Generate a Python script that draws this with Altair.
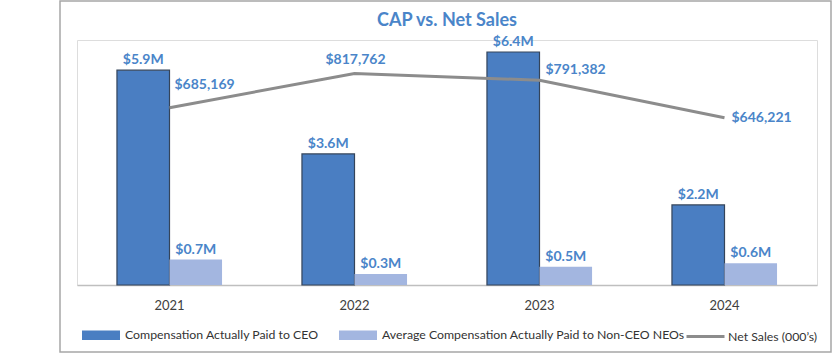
import altair as alt
import pandas as pd

years = ["2021", "2022", "2023", "2024"]
ceo_cap = [5.9, 3.6, 6.4, 2.2]          # $M
neo_cap = [0.7, 0.3, 0.5, 0.6]          # $M
net_sales = [685169, 817762, 791382, 646221]  # $000s

CEO = "Compensation Actually Paid to CEO"
NEO = "Average Compensation Actually Paid to Non-CEO NEOs"
NS = "Net Sales (000\u2019s)"

bars_df = pd.DataFrame(
    [{"year": y, "series": CEO, "value": v} for y, v in zip(years, ceo_cap)]
    + [{"year": y, "series": NEO, "value": v} for y, v in zip(years, neo_cap)]
)
line_df = pd.DataFrame({"year": years, "net_sales": net_sales, "metric": [NS] * len(years)})

FONT = "Lato"
LABEL_COLOR = "#4A85C9"
CEO_COLOR = "#4A7EC2"
NEO_COLOR = "#A3B6E0"
LINE_COLOR = "#8C8C8C"

W, H = 740, 245

x_enc = alt.X(
    "year:N",
    sort=years,
    scale=alt.Scale(paddingInner=0.432, paddingOuter=0.216),
    axis=alt.Axis(
        title=None, labelAngle=0, ticks=False, labelPadding=14,
        labelFont=FONT, labelFontSize=13, labelColor="#404040",
        domainColor="#BFBFBF", domainWidth=1.5,
    ),
)
x_center = alt.X("year:N", sort=years, bandPosition=0.5)

bar_y = alt.Y("value:Q", scale=alt.Scale(domain=[0, 6.73], nice=False, zero=True), axis=None)

bars = alt.Chart(bars_df).mark_bar(stroke="#34445A").encode(
    x=x_enc,
    xOffset=alt.XOffset("series:N", sort=[CEO, NEO], scale=alt.Scale(paddingInner=0, paddingOuter=0)),
    y=bar_y,
    color=alt.Color(
        "series:N",
        sort=[CEO, NEO],
        scale=alt.Scale(domain=[CEO, NEO], range=[CEO_COLOR, NEO_COLOR]),
        legend=alt.Legend(
            title=None, orient="none", legendX=5, legendY=276, direction="horizontal",
            columns=2, columnPadding=20, labelOffset=5, padding=0,
            symbolType="M-1,-0.25H1V0.25H-1Z", symbolSize=1444, symbolStrokeWidth=0,
            labelFont=FONT, labelFontSize=12.3, labelColor="#333333", labelLimit=400,
        ),
    ),
    strokeWidth=alt.condition(alt.datum.series == CEO, alt.value(1.2), alt.value(0)),
)

bar_text = alt.Chart(bars_df).transform_calculate(
    label="'$' + format(datum.value, '.1f') + 'M'"
).mark_text(
    font=FONT, fontSize=14, fontWeight="bold", color=LABEL_COLOR,
    baseline="alphabetic", dy=-6,
).encode(
    x=x_enc,
    xOffset=alt.XOffset("series:N", sort=[CEO, NEO], scale=alt.Scale(paddingInner=0, paddingOuter=0)),
    y=bar_y,
    text="label:N",
)

line_y = alt.Y("net_sales:Q", scale=alt.Scale(domain=[0, 947000], nice=False, zero=True), axis=None)

line = alt.Chart(line_df).mark_line(strokeWidth=3, strokeCap="butt").encode(
    x=x_center,
    y=line_y,
    stroke=alt.Stroke(
        "metric:N",
        scale=alt.Scale(domain=[NS], range=[LINE_COLOR]),
        legend=alt.Legend(
            title=None, orient="none", legendX=608, legendY=276, padding=0,
            symbolType="stroke", symbolSize=1444, symbolStrokeWidth=3, labelOffset=2,
            labelFont=FONT, labelFontSize=12.3, labelColor="#333333",
        ),
    ),
)

# label placement per point: (align, dx, dy)
placements = {
    "2021": ("left", 5, -23),
    "2022": ("center", 1, -13),
    "2023": ("left", 6, -10),
    "2024": ("left", 7, 0),
}
line_labels = []
for yr, (al, dx, dy) in placements.items():
    line_labels.append(
        alt.Chart(line_df).transform_filter(alt.datum.year == yr).transform_calculate(
            label="'$' + format(datum.net_sales, ',')"
        ).mark_text(
            font=FONT, fontSize=14, fontWeight="bold", color=LABEL_COLOR,
            align=al, baseline="middle", dx=dx, dy=dy,
        ).encode(x=x_center, y=line_y, text="label:N")
    )

frame = alt.Chart(alt.Data(values=[{}])).mark_rect(
    fillOpacity=0, stroke="#A6A6A6", strokeWidth=1.5
).encode(
    x=alt.value(-17), x2=alt.value(754), y=alt.value(-39), y2=alt.value(312)
)

bar_layer = alt.layer(bars, bar_text)
line_layer = alt.layer(line, *line_labels)

chart = alt.layer(frame, bar_layer, line_layer).resolve_scale(
    y="independent"
).properties(
    width=W,
    height=H,
    title=alt.TitleParams(
        "CAP vs. Net Sales", font=FONT, fontSize=18, fontWeight="bold",
        color=LABEL_COLOR, anchor="middle", baseline="alphabetic", offset=0, dy=44,
    ),
    autosize=alt.AutoSizeParams(type="none"),
    padding={"left": 77, "top": 40, "right": 16, "bottom": 69},
).configure_view(stroke=None).configure(background="white")

chart.save("out.html", embed_options={"renderer": "svg", "actions": False})
